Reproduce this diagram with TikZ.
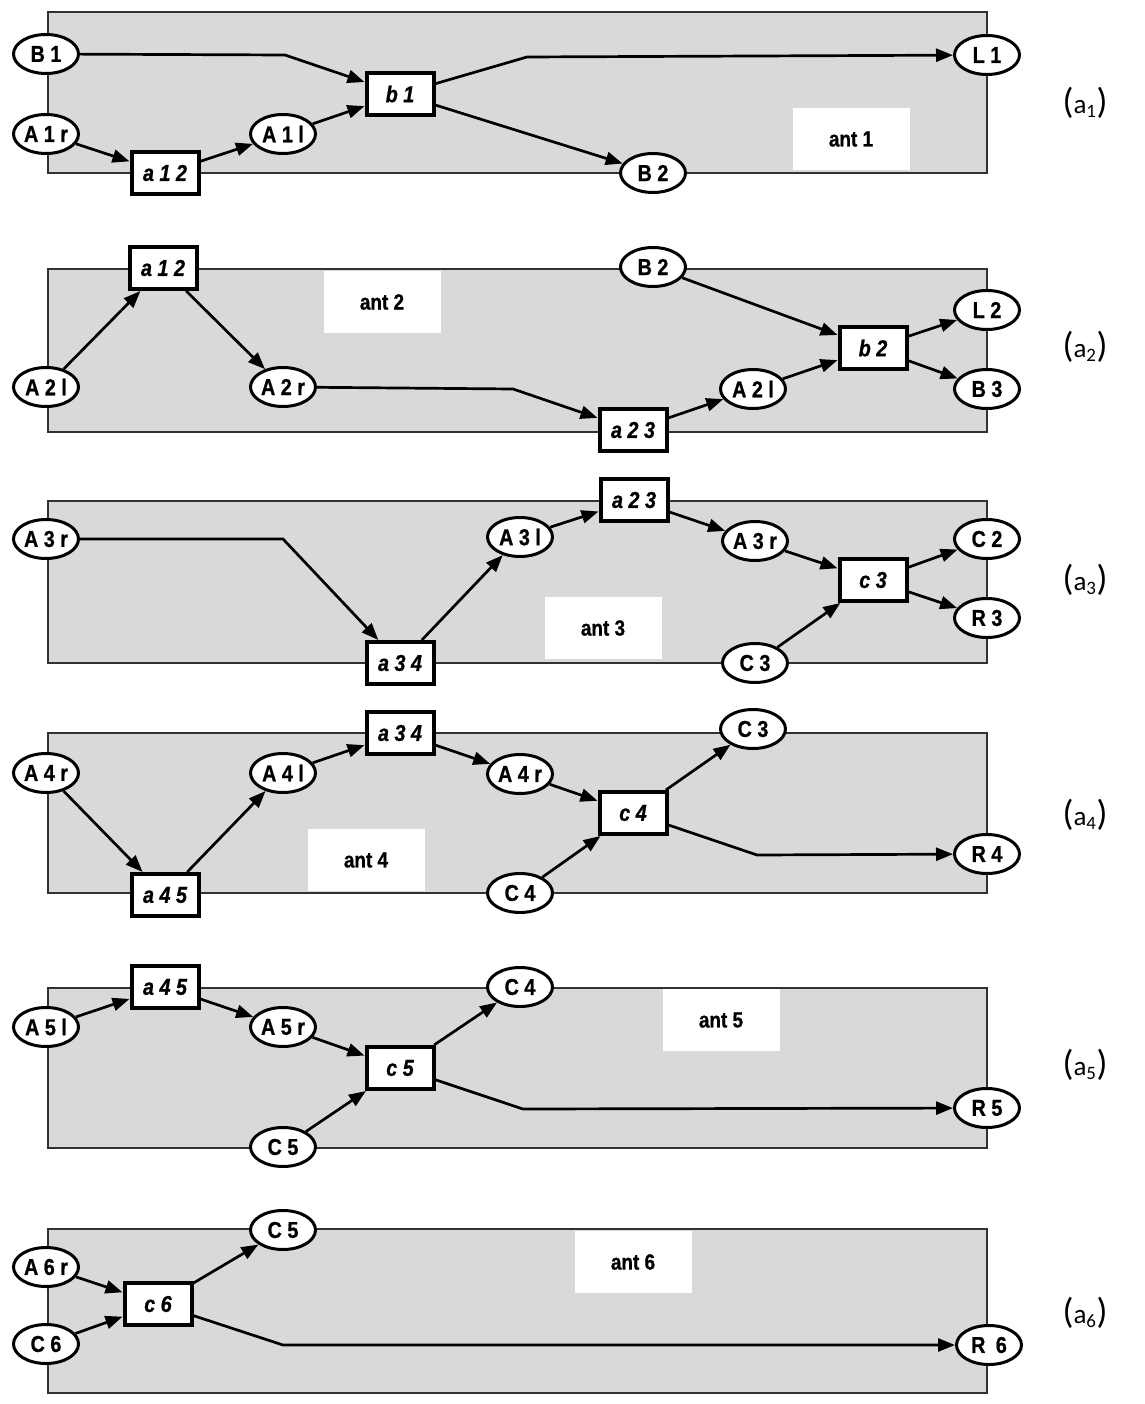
\documentclass[tikz,border=0pt]{standalone}
\usepackage{fontspec}
\setmainfont{Liberation Sans}
\newfontfamily\nodefont[FakeStretch=0.86, BoldFeatures={FakeBold=0.8}, BoldItalicFeatures={FakeBold=0.8}]{Liberation Sans}
\newfontfamily\capfont{Carlito}
\usetikzlibrary{arrows.meta, shapes.geometric, positioning}
\definecolor{PanelGray}{RGB}{217,217,217}
\definecolor{FrameGray}{RGB}{50,50,50}
\newcommand{\panelcap}[1]{{\fontsize{36}{36}\selectfont(}a\textsubscript{#1}{\fontsize{36}{36}\selectfont)}}

\begin{document}
\begin{tikzpicture}[x=1pt, y=-1pt,
	panel/.style={draw=FrameGray, line width=1.4pt, fill=PanelGray},
	port/.style={ellipse, draw, fill=white, line width=3pt, minimum width=65pt, minimum height=39pt, inner sep=0pt, font=\nodefont\bfseries\fontsize{23}{23}\selectfont},
	gate/.style={rectangle, draw, fill=white, line width=4pt, minimum width=67pt, minimum height=42pt, inner sep=0pt, font=\nodefont\bfseries\itshape\fontsize{23}{23}\selectfont},
	antlabel/.style={fill=white, minimum width=117pt, minimum height=62pt, inner sep=0pt, font=\nodefont\bfseries\fontsize{22}{22}\selectfont},
	caption/.style={font=\capfont\fontsize{27}{27}\selectfont},
	link/.style={line width=2.7pt, -{Triangle[length=17pt, width=13pt]}}
	]
	\useasboundingbox (0,0) rectangle (1144,1404);
	
	% panel a1
	\draw[panel] (48,12) rectangle (987,173);
	\node[antlabel] (ant1) at (851,139) {ant 1};
	\node[port] (p1B1) at (46,54) {B 1};
	\node[port] (p1A1r) at (46,134) {A 1 r};
	\node[gate] (p1a12) at (165,173) {a 1 2};
	\node[port] (p1A1l) at (283,134) {A 1 l};
	\node[gate] (p1b1) at (400,94) {b 1};
	\node[port] (p1L1) at (987,55) {L 1};
	\node[port] (p1B2) at (653,173) {B 2};
	\node[caption] (cap1) at (1085,103) {\panelcap{1}};
	\draw[link] (p1B1) -- (285,55) -- (p1b1);
	\draw[link] (p1A1r) -- (p1a12);
	\draw[link] (p1a12) -- (p1A1l);
	\draw[link] (p1A1l) -- (p1b1);
	\draw[link] (p1b1) -- (527,57) -- (p1L1);
	\draw[link] (p1b1) -- (p1B2);
	
	% panel a2
	\draw[panel] (48,269) rectangle (987,432);
	\node[antlabel] (ant2) at (382,302) {ant 2};
	\node[gate] (p2a12) at (163,268) {a 1 2};
	\node[port] (p2A2l) at (46,387) {A 2 l};
	\node[port] (p2A2r) at (283,387) {A 2 r};
	\node[port] (p2B2) at (653,267) {B 2};
	\node[gate] (p2b2) at (873,348) {b 2};
	\node[port] (p2L2) at (987,310) {L 2};
	\node[port] (p2B3) at (987,389) {B 3};
	\node[gate] (p2a23) at (633,430) {a 2 3};
	\node[port] (p2A2lb) at (753,389) {A 2 l};
	\node[caption] (cap2) at (1085,347) {\panelcap{2}};
	\draw[link] (p2A2l) -- (p2a12);
	\draw[link] (p2a12) -- (p2A2r);
	\draw[link] (p2A2r) -- (513,389) -- (p2a23);
	\draw[link] (p2a23) -- (p2A2lb);
	\draw[link] (p2A2lb) -- (p2b2);
	\draw[link] (p2B2) -- (p2b2);
	\draw[link] (p2b2) -- (p2L2);
	\draw[link] (p2b2) -- (p2B3);
	
	% panel a3
	\draw[panel] (48,501) rectangle (987,663);
	\node[antlabel] (ant3) at (603,628) {ant 3};
	\node[port] (p3A3r) at (46,539) {A 3 r};
	\node[gate] (p3a34) at (400,663) {a 3 4};
	\node[port] (p3A3l) at (520,537) {A 3 l};
	\node[gate] (p3a23) at (634,500) {a 2 3};
	\node[port] (p3A3rb) at (755,541) {A 3 r};
	\node[gate] (p3c3) at (873,580) {c 3};
	\node[port] (p3C2) at (987,539) {C 2};
	\node[port] (p3R3) at (987,618) {R 3};
	\node[port] (p3C3) at (755,663) {C 3};
	\node[caption] (cap3) at (1085,580) {\panelcap{3}};
	\draw[link] (p3A3r) -- (283,539) -- (p3a34);
	\draw[link] (p3a34) -- (p3A3l);
	\draw[link] (p3A3l) -- (p3a23);
	\draw[link] (p3a23) -- (p3A3rb);
	\draw[link] (p3A3rb) -- (p3c3);
	\draw[link] (p3C3) -- (p3c3);
	\draw[link] (p3c3) -- (p3C2);
	\draw[link] (p3c3) -- (p3R3);
	
	% panel a4
	\draw[panel] (48,733) rectangle (987,893);
	\node[antlabel] (ant4) at (366,860) {ant 4};
	\node[port] (p4A4r) at (46,773) {A 4 r};
	\node[gate] (p4a45) at (165,895) {a 4 5};
	\node[port] (p4A4l) at (283,773) {A 4 l};
	\node[gate] (p4a34) at (400,733) {a 3 4};
	\node[port] (p4A4rb) at (520,774) {A 4 r};
	\node[gate] (p4c4) at (633,813) {c 4};
	\node[port] (p4C3) at (753,729) {C 3};
	\node[port] (p4R4) at (987,854) {R 4};
	\node[port] (p4C4) at (520,893) {C 4};
	\node[caption] (cap4) at (1085,815) {\panelcap{4}};
	\draw[link] (p4A4r) -- (p4a45);
	\draw[link] (p4a45) -- (p4A4l);
	\draw[link] (p4A4l) -- (p4a34);
	\draw[link] (p4a34) -- (p4A4rb);
	\draw[link] (p4A4rb) -- (p4c4);
	\draw[link] (p4C4) -- (p4c4);
	\draw[link] (p4c4) -- (p4C3);
	\draw[link] (p4c4) -- (757,855) -- (p4R4);
	
	% panel a5
	\draw[panel] (48,988) rectangle (987,1148);
	\node[antlabel] (ant5) at (721,1020) {ant 5};
	\node[port] (p5A5l) at (46,1027) {A 5 l};
	\node[gate] (p5a45) at (165,987) {a 4 5};
	\node[port] (p5A5r) at (283,1027) {A 5 r};
	\node[gate] (p5c5) at (400,1068) {c 5};
	\node[port] (p5C4) at (520,987) {C 4};
	\node[port] (p5R5) at (987,1108) {R 5};
	\node[port] (p5C5) at (283,1147) {C 5};
	\node[caption] (cap5) at (1085,1065) {\panelcap{5}};
	\draw[link] (p5A5l) -- (p5a45);
	\draw[link] (p5a45) -- (p5A5r);
	\draw[link] (p5A5r) -- (p5c5);
	\draw[link] (p5C5) -- (p5c5);
	\draw[link] (p5c5) -- (p5C4);
	\draw[link] (p5c5) -- (523,1109) -- (p5R5);
	
	% panel a6
	\draw[panel] (48,1229) rectangle (987,1393);
	\node[antlabel] (ant6) at (633,1262) {ant 6};
	\node[port] (p6A6r) at (46,1267) {A 6 r};
	\node[port] (p6C6) at (46,1344) {C 6};
	\node[gate] (p6c6) at (158,1304) {c 6};
	\node[port] (p6C5) at (283,1230) {C 5};
	\node[port] (p6R6) at (989,1345) {R\hspace{0.45em}6};
	\node[caption] (cap6) at (1085,1313) {\panelcap{6}};
	\draw[link] (p6A6r) -- (p6c6);
	\draw[link] (p6C6) -- (p6c6);
	\draw[link] (p6c6) -- (p6C5);
	\draw[link] (p6c6) -- (283,1345) -- (p6R6);
\end{tikzpicture}
\end{document}
